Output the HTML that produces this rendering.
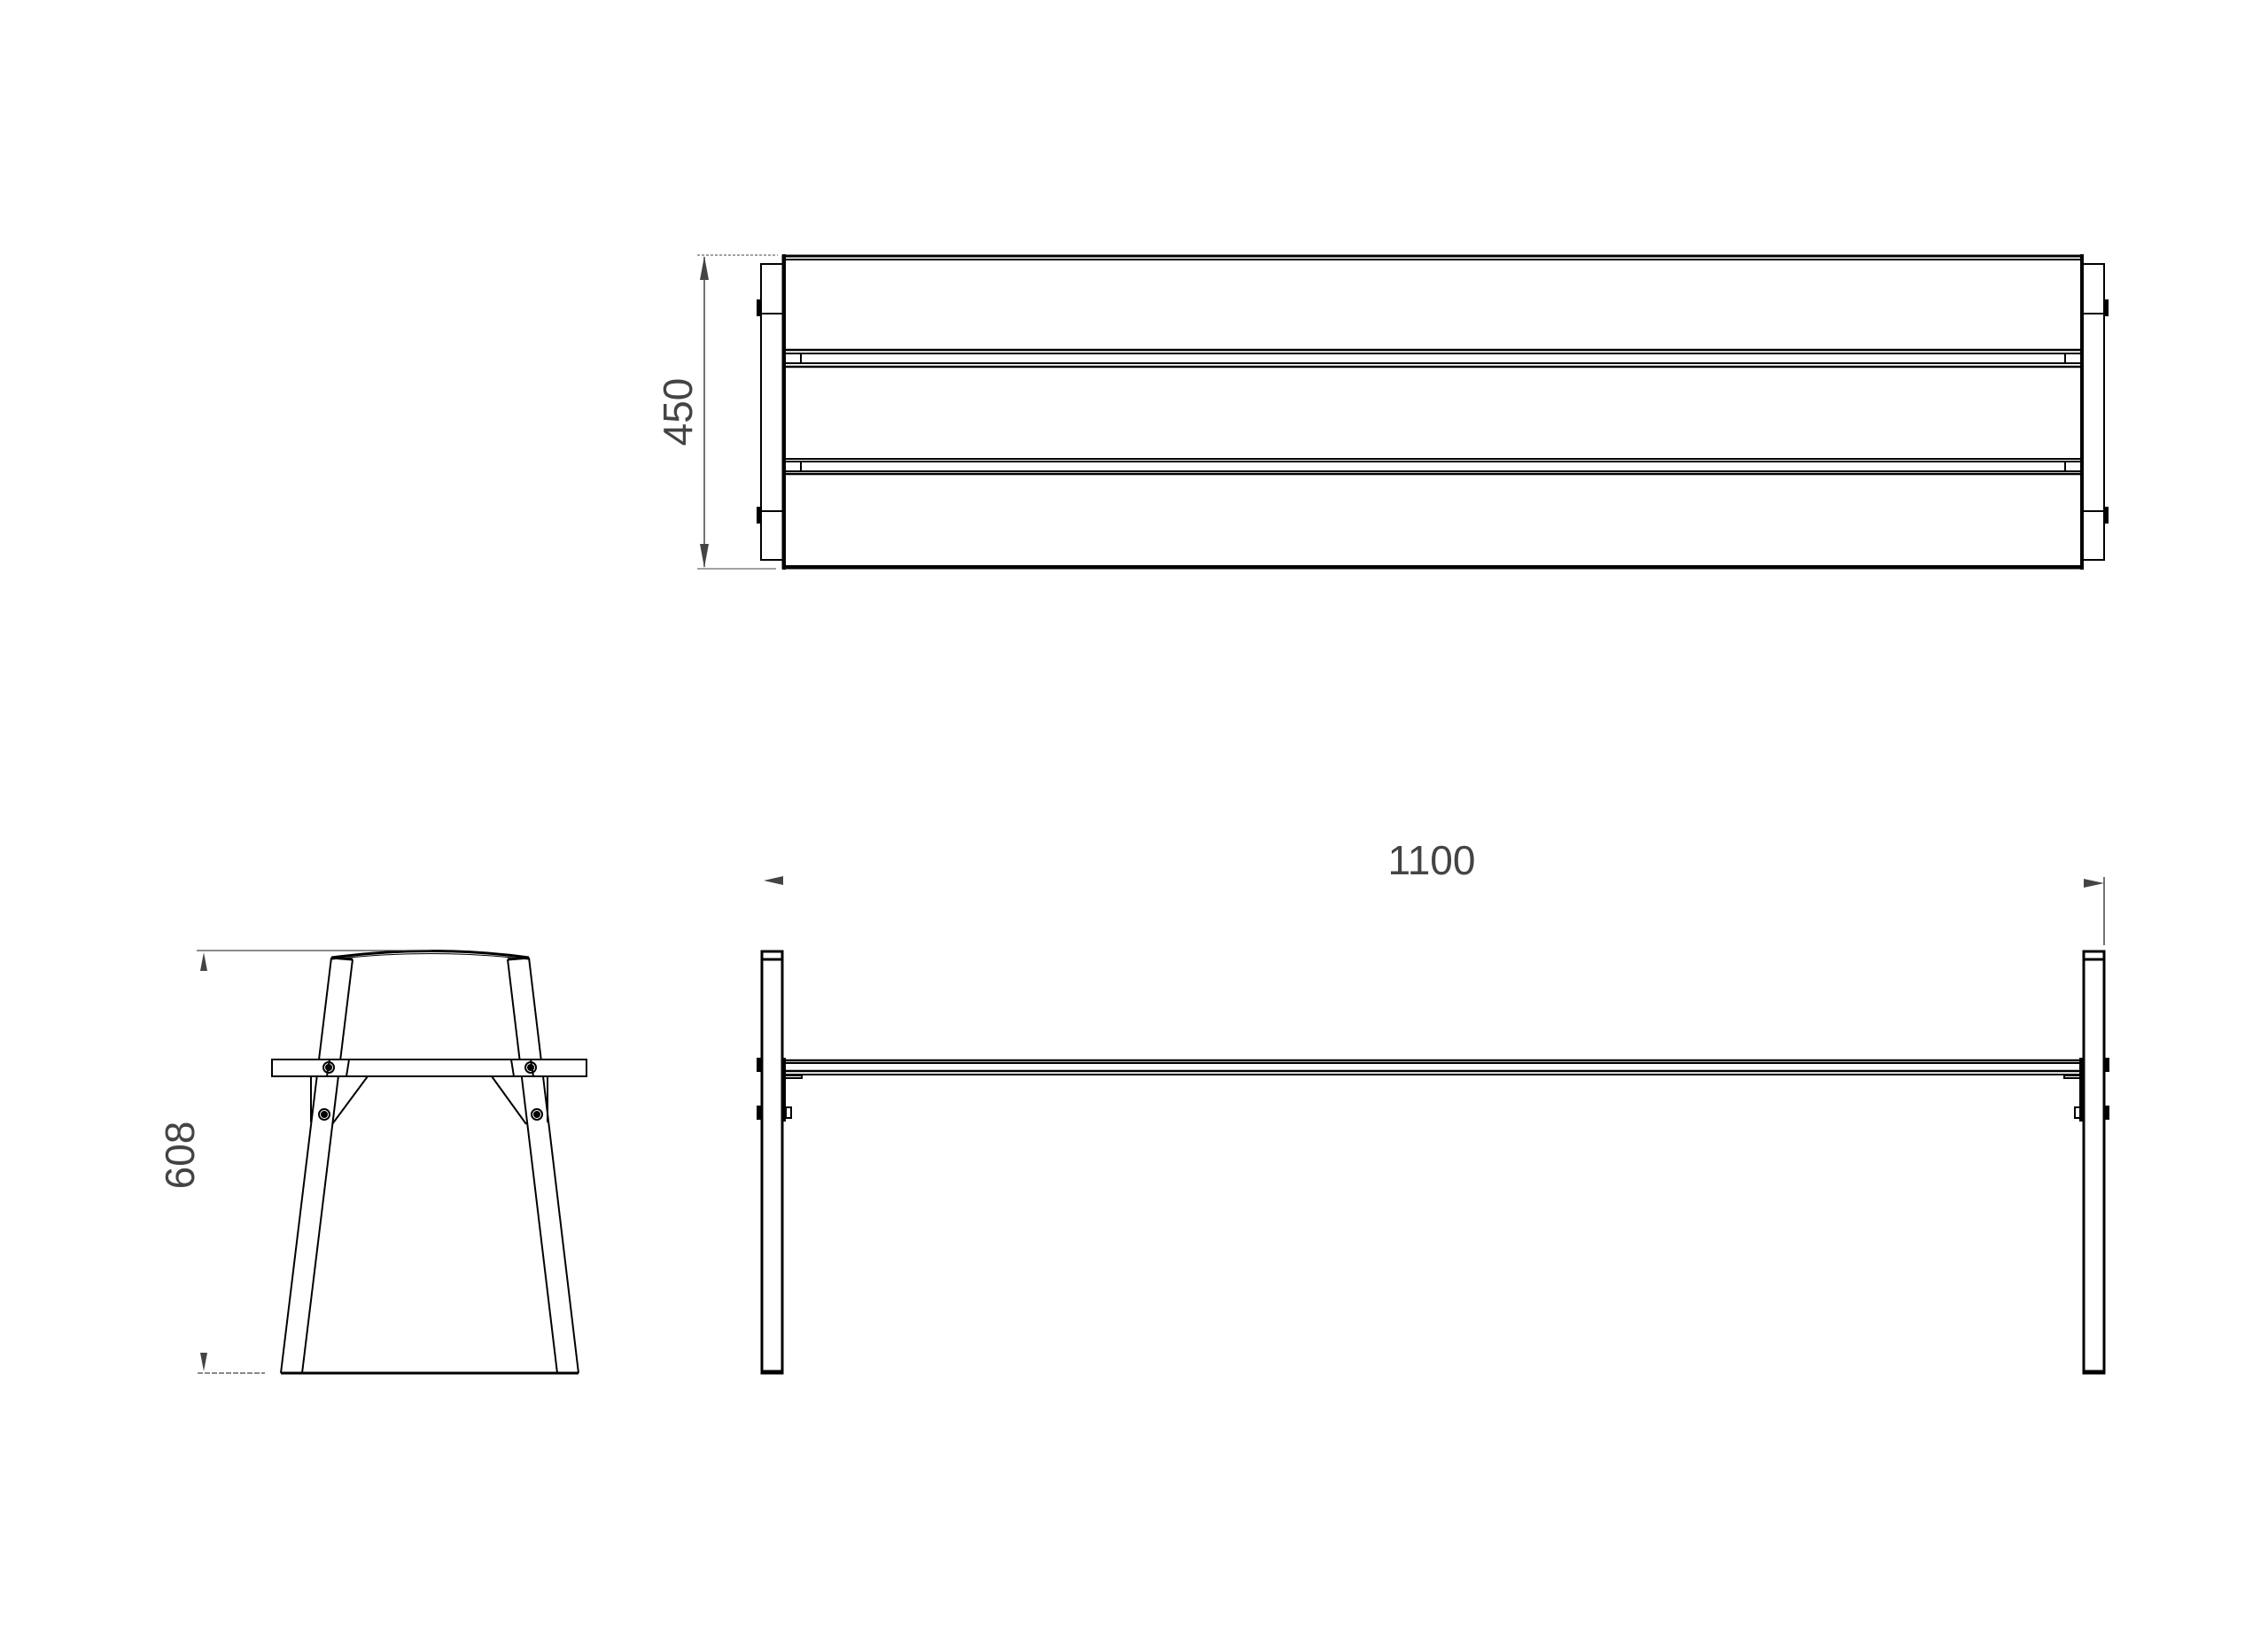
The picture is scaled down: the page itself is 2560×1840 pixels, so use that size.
<!DOCTYPE html>
<html><head><meta charset="utf-8"><style>
html,body{margin:0;padding:0;background:#fff;}
svg{display:block;}
text{font-family:"Liberation Sans",sans-serif;fill:#444;}
</style></head><body>
<svg width="2560" height="1840" viewBox="0 0 2560 1840" xmlns="http://www.w3.org/2000/svg">
<g fill="none" stroke="#000" stroke-width="2">
<!-- TOP VIEW -->
<rect x="884" y="289" width="1466" height="352" stroke-width="3"/>
<line x1="884" y1="293" x2="2350" y2="293"/>
<line x1="884" y1="639" x2="2350" y2="639"/>
<line x1="884" y1="395" x2="2350" y2="395" stroke-width="2.5"/>
<line x1="884" y1="399" x2="2350" y2="399"/>
<line x1="884" y1="410" x2="2350" y2="410"/>
<line x1="884" y1="414" x2="2350" y2="414" stroke-width="2.5"/>
<line x1="884" y1="518" x2="2350" y2="518"/>
<line x1="884" y1="521" x2="2350" y2="521"/>
<line x1="884" y1="532" x2="2350" y2="532"/>
<line x1="884" y1="535" x2="2350" y2="535" stroke-width="2.5"/>
<line x1="904" y1="399" x2="904" y2="410"/><line x1="2331" y1="399" x2="2331" y2="410"/>
<line x1="904" y1="521" x2="904" y2="532"/><line x1="2331" y1="521" x2="2331" y2="532"/>
<line x1="885" y1="287" x2="885" y2="643" stroke-width="4"/>
<line x1="2350" y1="287" x2="2350" y2="643" stroke-width="4"/>
<rect x="859" y="298" width="25" height="334"/>
<line x1="859" y1="354" x2="884" y2="354"/><line x1="859" y1="577" x2="884" y2="577"/>
<rect x="2350" y="298" width="25" height="334"/>
<line x1="2350" y1="354" x2="2375" y2="354"/><line x1="2350" y1="577" x2="2375" y2="577"/>
<rect x="855" y="339" width="4" height="17" fill="#000"/>
<rect x="855" y="573" width="4" height="17" fill="#000"/>
<rect x="2375" y="339" width="4" height="17" fill="#000"/>
<rect x="2375" y="573" width="4" height="17" fill="#000"/>
<!-- 450 dim -->
<line x1="795" y1="290" x2="795" y2="640" stroke="#444" stroke-width="1.5"/>
<line x1="787" y1="288" x2="878" y2="288" stroke="#444" stroke-width="1" stroke-dasharray="3,2"/>
<line x1="787" y1="642" x2="876" y2="642" stroke="#444" stroke-width="1"/>
<polygon points="795,289 790,316 800,316" fill="#444" stroke="none"/>
<polygon points="795,641 790,614 800,614" fill="#444" stroke="none"/>

<!-- SIDE VIEW (long) -->
<rect x="860" y="1074" width="23" height="476" stroke-width="3"/>
<line x1="860" y1="1083" x2="883" y2="1083" stroke-width="3"/>
<line x1="860" y1="1548" x2="883" y2="1548" stroke-width="3"/>
<rect x="2352" y="1074" width="23" height="476" stroke-width="3"/>
<line x1="2352" y1="1083" x2="2375" y2="1083" stroke-width="3"/>
<line x1="2352" y1="1548" x2="2375" y2="1548" stroke-width="3"/>
<line x1="884" y1="1197" x2="2350" y2="1197" stroke-width="2.5"/>
<line x1="884" y1="1200" x2="2350" y2="1200"/>
<line x1="884" y1="1209" x2="2350" y2="1209" stroke-width="2.5"/>
<line x1="884" y1="1213" x2="2350" y2="1213"/>
<line x1="885" y1="1194" x2="885" y2="1266" stroke-width="4"/>
<line x1="2349" y1="1194" x2="2349" y2="1266" stroke-width="4"/>
<polyline points="886,1214 905,1214 905,1217 886,1217"/>
<polyline points="2348,1214 2330,1214 2330,1217 2348,1217"/>
<rect x="855" y="1195" width="4" height="14" fill="#000"/>
<rect x="855" y="1249" width="4" height="14" fill="#000"/>
<rect x="2376" y="1195" width="4" height="14" fill="#000"/>
<rect x="2376" y="1249" width="4" height="14" fill="#000"/>
<rect x="887" y="1250" width="6" height="12"/>
<rect x="2342" y="1250" width="6" height="12"/>
<!-- 1100 dim -->
<line x1="2375" y1="990" x2="2375" y2="1067" stroke="#444" stroke-width="1.5"/>
<polygon points="2352,992 2352,1002 2375,997" fill="#444" stroke="none"/>
<polygon points="884,989 884,999 862,994" fill="#444" stroke="none"/>

<!-- END VIEW -->
<path d="M374,1081 Q486,1066 597,1081" stroke-width="3"/>
<path d="M374,1083 Q486,1070 597,1083" stroke-width="1"/>
<line x1="374" y1="1081" x2="317" y2="1550"/>
<line x1="398" y1="1083" x2="341" y2="1550"/>
<line x1="374" y1="1081" x2="398" y2="1083" stroke-width="3"/>
<line x1="597" y1="1081" x2="653" y2="1550"/>
<line x1="573" y1="1083" x2="629" y2="1550"/>
<line x1="597" y1="1081" x2="573" y2="1083" stroke-width="3"/>
<line x1="317" y1="1550" x2="653" y2="1550" stroke-width="3"/>
<rect x="307" y="1196" width="355" height="19" fill="#fff"/>
<line x1="372" y1="1196" x2="369" y2="1215"/>
<line x1="394" y1="1196" x2="391" y2="1215"/>
<line x1="599" y1="1196" x2="602" y2="1215"/>
<line x1="577" y1="1196" x2="580" y2="1215"/>
<line x1="351" y1="1215" x2="351" y2="1267"/>
<line x1="618" y1="1215" x2="618" y2="1267"/>
<line x1="415" y1="1215" x2="375" y2="1269"/>
<line x1="555" y1="1215" x2="594" y2="1269"/>
<circle cx="371" cy="1205" r="6"/><circle cx="371" cy="1205" r="3" fill="#000"/>
<circle cx="366" cy="1258" r="6"/><circle cx="366" cy="1258" r="3" fill="#000"/>
<circle cx="599" cy="1205" r="6"/><circle cx="599" cy="1205" r="3" fill="#000"/>
<circle cx="606" cy="1258" r="6"/><circle cx="606" cy="1258" r="3" fill="#000"/>
<!-- 608 dim -->
<line x1="222" y1="1073" x2="487" y2="1073" stroke="#444" stroke-width="1.2"/>
<line x1="223" y1="1550" x2="299" y2="1550" stroke="#444" stroke-width="1.2" stroke-dasharray="6,2"/>
<polygon points="230,1075 226,1096 234,1096" fill="#444" stroke="none"/>
<polygon points="230,1548 226,1527 234,1527" fill="#444" stroke="none"/>
</g>
<text x="0" y="0" font-size="46" text-anchor="middle" transform="translate(781,465) rotate(-90)">450</text>
<text x="1616" y="987" font-size="46" text-anchor="middle">1100</text>
<text x="0" y="0" font-size="46" text-anchor="middle" transform="translate(219,1304) rotate(-90)">608</text>
</svg>
</body></html>
